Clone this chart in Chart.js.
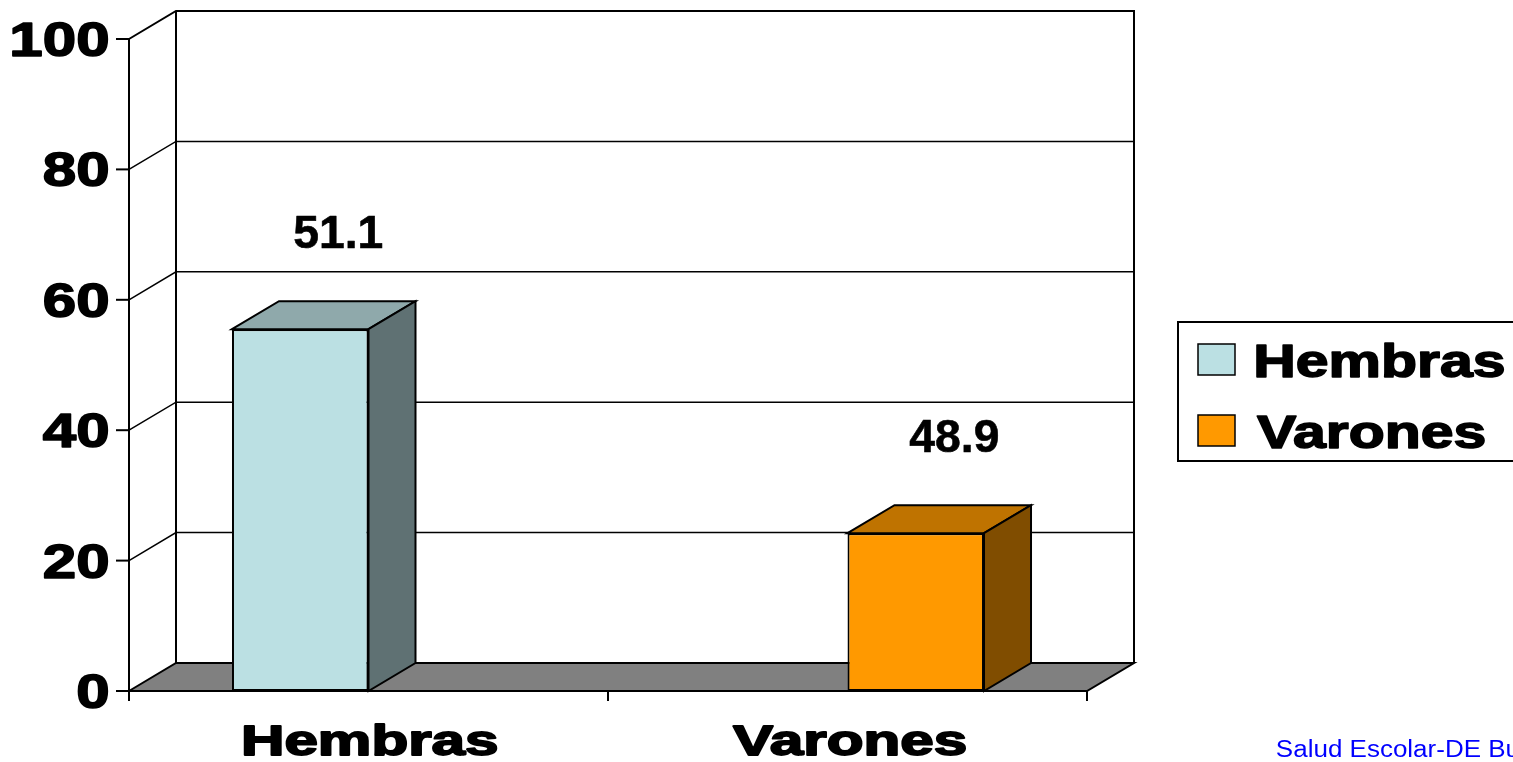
<!DOCTYPE html>
<html>
<head>
<meta charset="utf-8">
<title>Hembras / Varones</title>
<script src="https://cdn.jsdelivr.net/npm/chart.js@4.4.1/dist/chart.umd.min.js"></script>
<style>
  html, body { margin: 0; padding: 0; background: #ffffff; overflow: hidden; }
  #wrap { width: 1513px; height: 762px; }
</style>
</head>
<body>
<div id="wrap"><canvas id="c" width="1513" height="762"></canvas></div>
<script>
// ---- data ----
const categories = ['Hembras', 'Varones'];
const seriesNames = ['Hembras', 'Varones'];
const hembrasValues = [55.5, null];
const varonesValues = [null, 24.2];
const valueLabels = ['51.1', '48.9'];
const yTickValues = [0, 20, 40, 60, 80, 100];
const footerText = 'Salud Escolar-DE Bu';

// ---- style ----
const DX = 47, DY = -28;
const FONT = '"Liberation Sans", Arial, sans-serif';

function inkOf(ctx, text) {
  const m = ctx.measureText(text);
  return { l: m.actualBoundingBoxLeft, r: m.actualBoundingBoxRight, w: m.actualBoundingBoxLeft + m.actualBoundingBoxRight };
}
function drawInk(ctx, text, inkLeft, baseline, sx, heavy) {
  const m = inkOf(ctx, text);
  ctx.save();
  ctx.textAlign = 'left';
  ctx.textBaseline = 'alphabetic';
  ctx.translate(inkLeft + m.l * sx, baseline);
  ctx.scale(sx, 1);
  ctx.fillText(text, 0, 0);
  if (heavy) {
    ctx.strokeStyle = ctx.fillStyle;
    ctx.lineWidth = heavy;
    ctx.lineJoin = 'round';
    ctx.strokeText(text, 0, 0);
  }
  ctx.restore();
}
function poly(ctx, pts, fill, lw) {
  ctx.beginPath();
  ctx.moveTo(pts[0][0], pts[0][1]);
  for (let i = 1; i < pts.length; i++) ctx.lineTo(pts[i][0], pts[i][1]);
  ctx.closePath();
  if (fill) { ctx.fillStyle = fill; ctx.fill(); }
  ctx.lineWidth = lw; ctx.strokeStyle = '#000'; ctx.lineJoin = 'miter';
  ctx.stroke();
}
function line(ctx, pts, lw) {
  ctx.beginPath();
  ctx.moveTo(pts[0][0], pts[0][1]);
  for (let i = 1; i < pts.length; i++) ctx.lineTo(pts[i][0], pts[i][1]);
  ctx.lineWidth = lw; ctx.strokeStyle = '#000';
  ctx.stroke();
}

const threeD = {
  id: 'threeD',
  beforeDatasetsDraw(chart) {
    const { ctx, chartArea: a, scales: { y } } = chart;
    const L = a.left, R = a.right;
    const B = y.getPixelForValue(0), T = y.getPixelForValue(100);
    ctx.save();
    ctx.fillStyle = '#ffffff';
    ctx.fillRect(L + DX, T + DY, R - L, B - T);
    yTickValues.forEach(v => {
      if (v <= 0 || v >= 100) return;
      const py = y.getPixelForValue(v);
      line(ctx, [[L, py], [L + DX, py + DY], [R + DX, py + DY]], 1.5);
    });
    line(ctx, [[L, T], [L + DX, T + DY], [R + DX, T + DY], [R + DX, B + DY]], 2);
    line(ctx, [[L + DX, T + DY], [L + DX, B + DY]], 2);
    poly(ctx, [[L, B], [L + DX, B + DY], [R + DX, B + DY], [R, B]], '#808080', 2);
    ctx.restore();
  },
  afterDatasetsDraw(chart) {
    const { ctx, chartArea: a, scales: { x, y } } = chart;
    const L = a.left, R = a.right;
    const B = y.getPixelForValue(0), T = y.getPixelForValue(100);
    ctx.save();
    // 3D faces of bars
    const barTops = [];
    chart.data.datasets.forEach((ds, i) => {
      const meta = chart.getDatasetMeta(i);
      meta.data.forEach((el, j) => {
        if (ds.data[j] == null) return;
        const p = el.getProps(['x', 'y', 'base', 'width'], true);
        const l = p.x - p.width / 2, r = p.x + p.width / 2;
        poly(ctx, [[l, p.y], [l + DX, p.y + DY], [r + DX, p.y + DY], [r, p.y]], ds.topColor, 2);
        poly(ctx, [[r, p.y], [r + DX, p.y + DY], [r + DX, p.base + DY], [r, p.base]], ds.sideColor, 2);
        barTops[j] = { x: p.x, y: p.y };
      });
    });
    // axes
    line(ctx, [[L, T], [L, B + 9]], 2);
    yTickValues.forEach(v => {
      const py = y.getPixelForValue(v);
      line(ctx, [[L - 13, py], [L, py]], 2);
    });
    line(ctx, [[L, B], [R, B]], 2);
    const c0 = x.getPixelForValue(0), c1 = x.getPixelForValue(1);
    [L, (c0 + c1) / 2, R].forEach(px => line(ctx, [[px, B], [px, B + 10]], 2));

    ctx.fillStyle = '#000';
    // y tick labels
    ctx.font = 'bold 49px ' + FONT;
    const sxY = 95 / inkOf(ctx, '100').w;
    yTickValues.forEach(v => {
      const py = y.getPixelForValue(v);
      const t = String(v);
      const w = inkOf(ctx, t).w * sxY;
      drawInk(ctx, t, L - 21 - w, py + 17, sxY, 1.6);
    });
    // x labels
    ctx.font = 'bold 43px ' + FONT;
    const sxX = 233 / inkOf(ctx, 'Varones').w;
    categories.forEach((c, j) => {
      const px = x.getPixelForValue(j);
      const w = inkOf(ctx, c).w * sxX;
      drawInk(ctx, c, px + 2 - w / 2, B + 64, sxX, 1.8);
    });
    // value labels
    ctx.font = 'bold 47px ' + FONT;
    const sxV = 89 / inkOf(ctx, '48.9').w;
    valueLabels.forEach((t, j) => {
      const bt = barTops[j];
      if (!bt) return;
      const w = inkOf(ctx, t).w * sxV;
      drawInk(ctx, t, bt.x + 38 - w / 2, bt.y - 81, sxV, 0.6);
    });
    // legend
    const lgX = R + 91, lgY = 322;
    ctx.lineWidth = 2; ctx.strokeStyle = '#000';
    ctx.strokeRect(lgX, lgY, 400, 139);
    ctx.font = 'bold 47px ' + FONT;
    const sxL = 247 / inkOf(ctx, 'Hembras').w;
    chart.data.datasets.forEach((ds, i) => {
      const sy = lgY + 22 + i * 71;
      ctx.fillStyle = ds.backgroundColor;
      ctx.fillRect(lgX + 20, sy, 37, 31);
      ctx.lineWidth = 1.5; ctx.strokeStyle = '#000';
      ctx.strokeRect(lgX + 20, sy, 37, 31);
      ctx.fillStyle = '#000';
      drawInk(ctx, ds.label, lgX + 79, sy + 33, sxL, 1.6);
    });
    // footer
    ctx.fillStyle = '#0000ff';
    ctx.font = '23px ' + FONT;
    drawInk(ctx, footerText, 1277, 757, 1.13, 0);
    ctx.restore();
  }
};

new Chart(document.getElementById('c'), {
  type: 'bar',
  data: {
    labels: categories,
    datasets: [
      { label: seriesNames[0], data: hembrasValues, backgroundColor: '#BBE0E3', topColor: '#8FA9AB', sideColor: '#5F7173',
        borderColor: '#000', borderWidth: 2, borderSkipped: false },
      { label: seriesNames[1], data: varonesValues, backgroundColor: '#FF9900', topColor: '#BF7300', sideColor: '#804D00',
        borderColor: '#000', borderWidth: 2, borderSkipped: false }
    ]
  },
  options: {
    responsive: false,
    animation: false,
    devicePixelRatio: 1,
    categoryPercentage: 0.57,
    barPercentage: 1.0,
    layout: { padding: { left: 129, right: 426, top: 39, bottom: 71 } },
    plugins: { legend: { display: false }, tooltip: { enabled: false } },
    scales: {
      x: { display: false },
      y: { display: false, min: 0, max: 100 }
    }
  },
  plugins: [threeD]
});
</script>
</body>
</html>
